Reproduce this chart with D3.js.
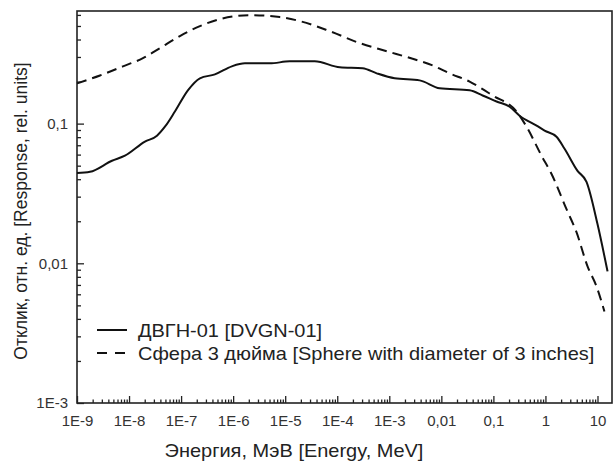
<!DOCTYPE html>
<html>
<head>
<meta charset="utf-8">
<script src="https://cdnjs.cloudflare.com/ajax/libs/d3/7.8.5/d3.min.js"></script>
<style>
html, body { margin: 0; padding: 0; background: #fff; overflow: hidden; }
svg { display: block; }
text { font-family: "Liberation Sans", Arial, sans-serif; }
</style>
</head>
<body>
<div id="chart"></div>
<script>
// ДВГН-01 response (energy in MeV, response in rel. units)
var dvgnEnergy = [1e-9, 1.78e-9, 4.7e-9, 8.34e-9, 2.02e-8, 3.44e-8, 4.89e-8, 7.6e-8, 1.35e-7, 2.3e-7,
    4.46e-7, 9.44e-7, 1.68e-6, 5.06e-6, 1.22e-5, 3.7e-5, 1.12e-4, 3.08e-4, 5.73e-4, 1.27e-3,
    3.83e-3, 9.27e-3, 0.0349, 0.0621, 0.115, 0.205, 0.318, 0.675, 0.962, 1.63,
    2.33, 4.13, 6.15, 10, 15.6];
var dvgnResponse = [0.0443, 0.0452, 0.0542, 0.0589, 0.0743, 0.082, 0.095, 0.122, 0.173, 0.211,
    0.225, 0.257, 0.27, 0.27, 0.279, 0.279, 0.253, 0.249, 0.229, 0.211,
    0.204, 0.179, 0.173, 0.159, 0.144, 0.132, 0.114, 0.0968, 0.0891, 0.0805,
    0.0661, 0.0459, 0.0383, 0.0191, 0.00875];

// 3 inch sphere
var sphereEnergy = [1e-9, 2.76e-9, 7.64e-9, 1.85e-8, 3.92e-8, 9.48e-8, 2.3e-7, 5.56e-7, 2.09e-6, 7.87e-6,
    1.91e-5, 7.18e-5, 2.7e-4, 8.91e-4, 2.81e-3, 6.81e-3, 0.0144, 0.0349, 0.0966, 0.279,
    0.434, 0.841, 1.31, 2.54, 3.95, 6.44, 9.57, 13.6];
var sphereResponse = [0.194, 0.221, 0.257, 0.294, 0.347, 0.423, 0.499, 0.56, 0.598, 0.579,
    0.542, 0.459, 0.377, 0.33, 0.291, 0.261, 0.229, 0.2, 0.159, 0.122,
    0.095, 0.0589, 0.0436, 0.0244, 0.0167, 0.0095, 0.00684, 0.00452];

var xTicks = [1e-9, 1e-8, 1e-7, 1e-6, 1e-5, 1e-4, 1e-3, 0.01, 0.1, 1, 10];
var xTickLabels = ['1E-9', '1E-8', '1E-7', '1E-6', '1E-5', '1E-4', '1E-3', '0,01', '0,1', '1', '10'];
var yTicks = [1e-3, 0.01, 0.1];
var yTickLabels = ['1E-3', '0,01', '0,1'];

var seriesNames = ['ДВГН-01 [DVGN-01]', 'Сфера 3 дюйма [Sphere with diameter of 3 inches]'];

var outerWidth = 616;
var outerHeight = 462;
var margin = { left: 77, top: 11, right: 4, bottom: 59 };
var innerWidth = outerWidth - margin.left - margin.right;
var innerHeight = outerHeight - margin.top - margin.bottom;

var svg = d3.select('#chart').append('svg')
    .attr('width', outerWidth)
    .attr('height', outerHeight);
var g = svg.append('g')
    .attr('transform', 'translate(' + margin.left + ',' + margin.top + ')');

var xScale = d3.scaleLog().domain([1e-9, 19]).range([0, innerWidth]);
var yScale = d3.scaleLog().domain([1e-3, 0.64]).range([innerHeight, 0]);

// minor ticks 2..9 in every decade
var xMinor = [];
for (var k = -9; k <= 1; k++) {
    for (var m = 2; m <= 9; m++) {
        var v = m * Math.pow(10, k);
        if (v < 19) xMinor.push(v);
    }
}
var yMinor = [];
for (var k2 = -3; k2 <= -1; k2++) {
    for (var m2 = 2; m2 <= 9; m2++) {
        var v2 = m2 * Math.pow(10, k2);
        if (v2 < 0.64) yMinor.push(v2);
    }
}

var xAxisMinorG = g.append('g')
    .attr('transform', 'translate(0,' + innerHeight + ')')
    .call(d3.axisBottom(xScale).tickValues(xMinor).tickSize(-3.5).tickFormat(''));
var xAxisG = g.append('g')
    .attr('transform', 'translate(0,' + innerHeight + ')')
    .call(d3.axisBottom(xScale).tickValues(xTicks).tickSize(-7).tickPadding(12)
        .tickFormat(function (d, i) { return xTickLabels[i]; }));

var yAxisMinorG = g.append('g')
    .call(d3.axisLeft(yScale).tickValues(yMinor).tickSize(-4).tickFormat(''));
var yAxisG = g.append('g')
    .call(d3.axisLeft(yScale).tickValues(yTicks).tickSize(-7).tickPadding(9)
        .tickFormat(function (d, i) { return yTickLabels[i]; }));

g.selectAll('.domain').remove();
g.selectAll('.tick line').attr('stroke', '#222').attr('stroke-width', 1.3);
g.selectAll('.tick text').attr('fill', '#333').style('font-size', '15px');

// frame
g.append('rect')
    .attr('width', innerWidth)
    .attr('height', innerHeight)
    .attr('fill', 'none')
    .attr('stroke', '#222')
    .attr('stroke-width', 1.6);

var line = d3.line()
    .x(function (d) { return xScale(d[0]); })
    .y(function (d) { return yScale(d[1]); })
    .curve(d3.curveMonotoneX);

var dvgnData = dvgnEnergy.map(function (e, i) { return [e, dvgnResponse[i]]; });
var sphereData = sphereEnergy.map(function (e, i) { return [e, sphereResponse[i]]; });

g.append('path')
    .attr('d', line(sphereData))
    .attr('fill', 'none')
    .attr('stroke', '#111')
    .attr('stroke-width', 2)
    .attr('stroke-dasharray', '10,6');
g.append('path')
    .attr('d', line(dvgnData))
    .attr('fill', 'none')
    .attr('stroke', '#111')
    .attr('stroke-width', 2);

// legend (the reference text is a bit stretched sideways)
var legend = svg.append('g');
var dashes = [null, '10,8'];
seriesNames.forEach(function (name, i) {
    var ly = 330 + i * 23;
    legend.append('line')
        .attr('x1', 97).attr('x2', 127)
        .attr('y1', ly).attr('y2', ly)
        .attr('stroke', '#111')
        .attr('stroke-width', 2)
        .attr('stroke-dasharray', dashes[i]);
    legend.append('text')
        .attr('transform', 'translate(138,' + (ly + 6.5) + ') scale(1.11,1)')
        .attr('fill', '#222')
        .style('font-size', '18px')
        .text(name);
});

// axis titles
svg.append('text')
    .attr('transform', 'translate(294,457) scale(1.11,1)')
    .attr('fill', '#222')
    .style('font-size', '18px')
    .style('text-anchor', 'middle')
    .text('Энергия, МэВ [Energy, MeV]');
svg.append('text')
    .attr('transform', 'translate(27,211) rotate(-90)')
    .attr('fill', '#222')
    .style('font-size', '17.5px')
    .style('text-anchor', 'middle')
    .text('Отклик, отн. ед. [Response, rel. units]');
</script>
</body>
</html>
